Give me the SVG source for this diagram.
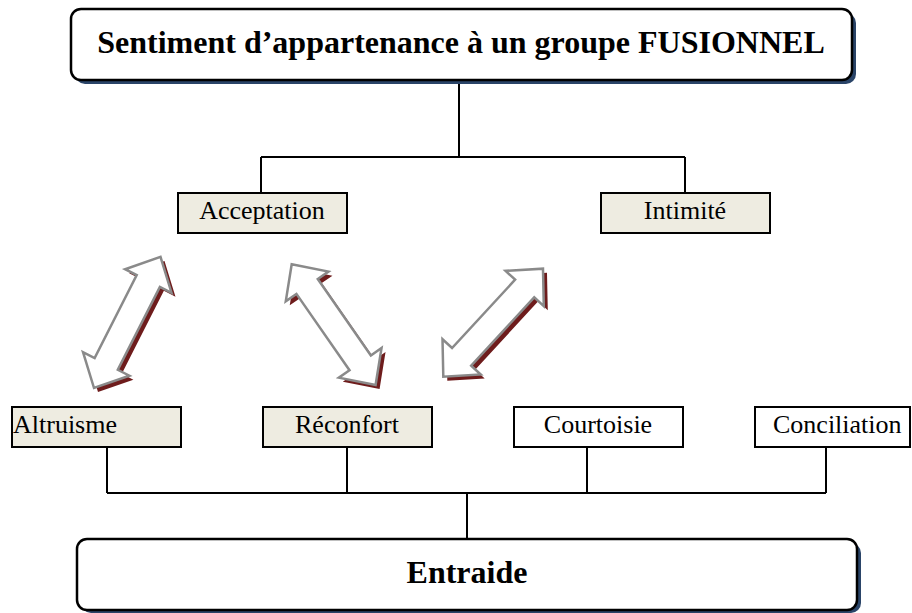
<svg xmlns="http://www.w3.org/2000/svg" width="912" height="613" viewBox="0 0 912 613">
<style>
.box{fill:#EEECE1;stroke:#000;stroke-width:2}
.wbox{fill:#fff;stroke:#000;stroke-width:2}
.big{fill:#fff;stroke:#000;stroke-width:2.5}
.bshadow{fill:#2a4468}
.lbl{font-family:"Liberation Serif","Times New Roman",serif;font-size:26px;fill:#000}
.ttl{font-family:"Liberation Serif","Times New Roman",serif;font-size:32px;font-weight:bold;fill:#000}
.con{fill:none;stroke:#000;stroke-width:2}
.arr{fill:#fff;stroke:#8a8a8a;stroke-width:2.5;stroke-linejoin:miter}
.ashadow{fill:#6e1c1c}
</style>
<defs>
<path id="dbl" d="M0,0 L27,-26 L27,-13 L120,-13 L120,-26 L147,0 L120,26 L120,13 L27,13 L27,26 Z"/>
</defs>
<rect width="912" height="613" fill="#fff"/>

<g id="connectors">
<path class="con" d="M459,80 V157 M261,157 H685 M261,157 V193 M685,157 V193"/>
<path class="con" d="M107,447 V493 M347,447 V493 M587,447 V493 M826,447 V493 M107,493 H826 M467,493 V539"/>
</g>

<g id="top">
<rect class="bshadow" x="75" y="13" width="781" height="71" rx="10"/>
<rect class="big" x="71" y="9" width="781" height="71" rx="10"/>
<text class="ttl" x="461" y="53" text-anchor="middle">Sentiment d’appartenance à un groupe FUSIONNEL</text>
</g>

<g id="acceptation">
<rect class="box" x="178" y="193" width="169" height="40"/>
<text class="lbl" x="262" y="219" text-anchor="middle">Acceptation</text>
</g>
<g id="intimite">
<rect class="box" x="601" y="193" width="169" height="40"/>
<text class="lbl" x="685" y="219" text-anchor="middle">Intimité</text>
</g>

<g id="arrows">
<g transform="translate(4,4)"><use href="#dbl" class="ashadow" transform="translate(94,388) rotate(-63.1)"/></g>
<use href="#dbl" class="arr" transform="translate(94,388) rotate(-63.1)"/>
<g transform="translate(4,4)"><use href="#dbl" class="ashadow" transform="translate(291.7,264.3) rotate(55.2)"/></g>
<use href="#dbl" class="arr" transform="translate(291.7,264.3) rotate(55.2)"/>
<g transform="translate(4,4)"><use href="#dbl" class="ashadow" transform="translate(443.3,376.7) rotate(-47.3)"/></g>
<use href="#dbl" class="arr" transform="translate(443.3,376.7) rotate(-47.3)"/>
</g>

<g id="altruisme">
<rect class="box" x="12" y="407" width="169" height="40"/>
<text class="lbl" x="13" y="433">Altruisme</text>
</g>
<g id="reconfort">
<rect class="box" x="263" y="407" width="169" height="40"/>
<text class="lbl" x="347" y="433" text-anchor="middle">Réconfort</text>
</g>
<g id="courtoisie">
<rect class="wbox" x="514" y="407" width="169" height="40"/>
<text class="lbl" x="598" y="433" text-anchor="middle">Courtoisie</text>
</g>
<g id="conciliation">
<rect class="wbox" x="755" y="407" width="155" height="40"/>
<text class="lbl" x="773" y="433">Conciliation</text>
</g>

<g id="entraide">
<rect class="bshadow" x="81" y="543" width="780" height="70" rx="10"/>
<rect class="big" x="77" y="539" width="780" height="71" rx="10"/>
<text class="ttl" x="467" y="583" text-anchor="middle">Entraide</text>
</g>
</svg>
